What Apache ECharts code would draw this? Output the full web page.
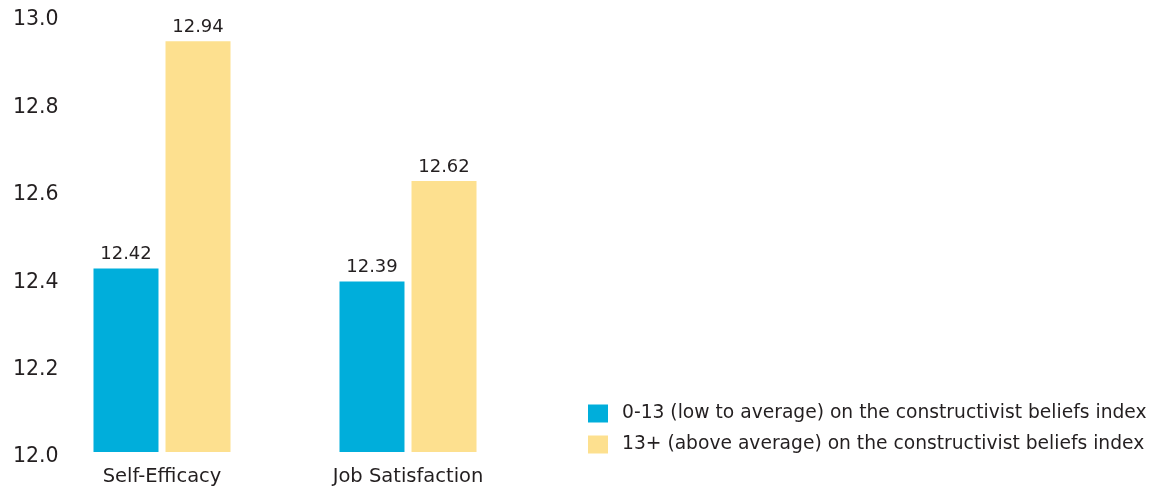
<!DOCTYPE html>
<html>
<head>
<meta charset="utf-8">
<title>Self-efficacy and job satisfaction by constructivist beliefs</title>
<script src="https://cdn.jsdelivr.net/npm/echarts@6/dist/echarts.min.js"></script>
<style>
  html, body { margin: 0; padding: 0; background: #ffffff; }
  #chart { width: 1160px; height: 491px; }
</style>
</head>
<body>
<div id="chart"></div>
<script>
// Outcome measures on the x axis
const categories = ['Self-Efficacy', 'Job Satisfaction'];

// Group names shown in the legend
const seriesNames = [
  '0-13 (low to average) on the constructivist beliefs index',
  '13+ (above average) on the constructivist beliefs index'
];

// Mean scores per group
const lowToAverage = [12.42, 12.39];
const aboveAverage = [12.94, 12.62];

// Value axis range and step
const yMin = 12.0;
const yMax = 13.0;
const yStep = 0.2;

const FONT = 'DejaVu Sans';
const TEXT = '#231f20';
const BLUE = '#00aedb';
const YELLOW = '#fde08f';

const chart = echarts.init(document.getElementById('chart'), null, { renderer: 'canvas' });

function barSeries(name, data, color) {
  return {
    name: name,
    type: 'bar',
    data: data,
    barWidth: 65,
    barGap: '10.8%',
    itemStyle: { color: color },
    label: {
      show: true,
      position: 'top',
      distance: 5,
      color: TEXT,
      fontFamily: FONT,
      fontSize: 18,
      formatter: p => p.value.toFixed(2)
    }
  };
}

chart.setOption({
  animation: false,
  backgroundColor: '#ffffff',
  textStyle: { fontFamily: FONT, color: TEXT },
  grid: { left: 39, right: 629, top: 15, bottom: 39, containLabel: false },
  legend: {
    orient: 'vertical',
    left: 583,
    top: 399,
    itemWidth: 20,
    itemHeight: 18,
    itemGap: 12,
    icon: 'rect',
    textStyle: { fontFamily: FONT, fontSize: 18.7, color: TEXT, padding: [0, 0, 0, 9] },
    data: seriesNames
  },
  xAxis: {
    type: 'category',
    data: categories,
    axisLine: { show: false },
    axisTick: { show: false },
    axisLabel: { color: TEXT, fontFamily: FONT, fontSize: 19.5, margin: 15 }
  },
  yAxis: {
    type: 'value',
    min: yMin,
    max: yMax,
    interval: yStep,
    axisLine: { show: false },
    axisTick: { show: false },
    splitLine: { show: false },
    axisLabel: {
      color: TEXT,
      fontFamily: FONT,
      fontSize: 20.5,
      align: 'left',
      verticalAlign: 'top',
      lineHeight: 10,
      margin: 26,
      formatter: v => v.toFixed(1)
    }
  },
  series: [
    barSeries(seriesNames[0], lowToAverage, BLUE),
    barSeries(seriesNames[1], aboveAverage, YELLOW)
  ]
});
</script>
</body>
</html>
